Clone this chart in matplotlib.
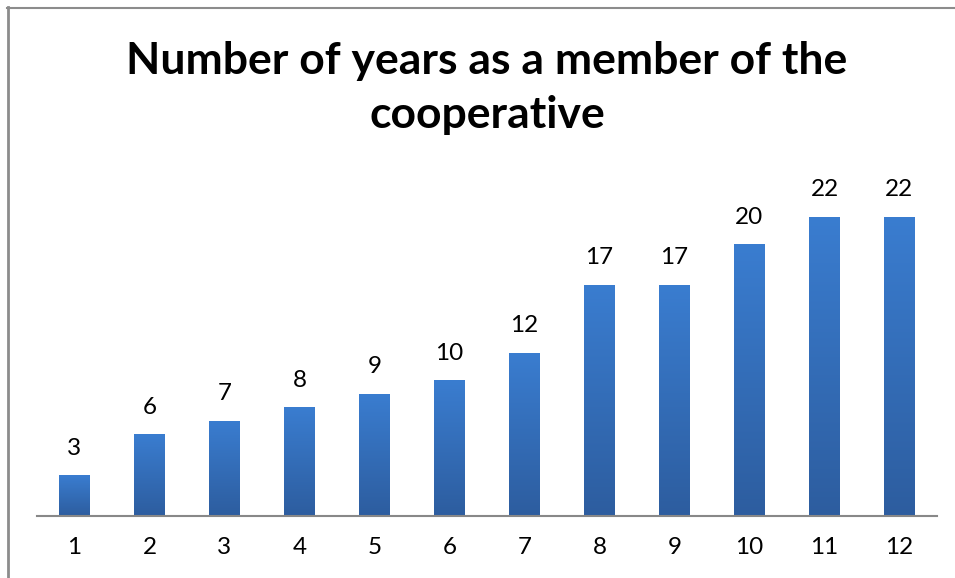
import numpy as np
import matplotlib.pyplot as plt
from matplotlib.lines import Line2D

# members by years in the cooperative
cats = ['1', '2', '3', '4', '5', '6', '7', '8', '9', '10', '11', '12']
vals = [3, 6, 7, 8, 9, 10, 12, 17, 17, 20, 22, 22]

plt.rcParams['font.family'] = ['Lato', 'DejaVu Sans']

fig = plt.figure(figsize=(9.55, 5.78), dpi=100)
ax = fig.add_axes([37/955, 62/578, 900/955, 340/578])

x = np.arange(1, len(vals) + 1)
w = 0.41
bars = ax.bar(x, vals, width=w, color='#3572c0', zorder=2)

# vertical gradient inside each bar
grad = np.linspace(0, 1, 256).reshape(-1, 1)
cmap = plt.matplotlib.colors.LinearSegmentedColormap.from_list('g', ['#2d5d9f', '#3a7dd0'])
for b in bars:
    bx, by = b.get_x(), b.get_y()
    im = ax.imshow(grad, cmap=cmap, origin='lower', aspect='auto',
                   extent=[bx, bx + b.get_width(), by, by + b.get_height()], zorder=3)
    im.set_clip_path(b)
    ax.text(bx + b.get_width()/2, b.get_height() + 1.2, str(int(b.get_height())),
            ha='center', va='bottom', fontsize=17.5)

ax.set_xlim(0.5, 12.5)
ax.set_ylim(0, 25)
ax.set_xticks(x)
ax.set_xticklabels(cats, fontsize=17.5)
ax.set_yticks([])
for s in ['left', 'right', 'top']:
    ax.spines[s].set_visible(False)
ax.spines['bottom'].set_color('#888888')
ax.spines['bottom'].set_linewidth(1.5)
ax.spines['bottom'].set_zorder(4)
ax.tick_params(axis='x', length=0, pad=15)

fig.text(487/955, 1 - 88/578, 'Number of years as a member of the\ncooperative',
         ha='center', va='center', fontsize=32, fontweight='bold', linespacing=1.42)

# chart frame edges
fig.add_artist(Line2D([7.5/955, 7.5/955], [0, 1 - 7/578], color='#8c8c8c', lw=2))
fig.add_artist(Line2D([7/955, 1], [1 - 7.5/578, 1 - 7.5/578], color='#8c8c8c', lw=1.5))

fig.savefig('out.png', dpi=100)
